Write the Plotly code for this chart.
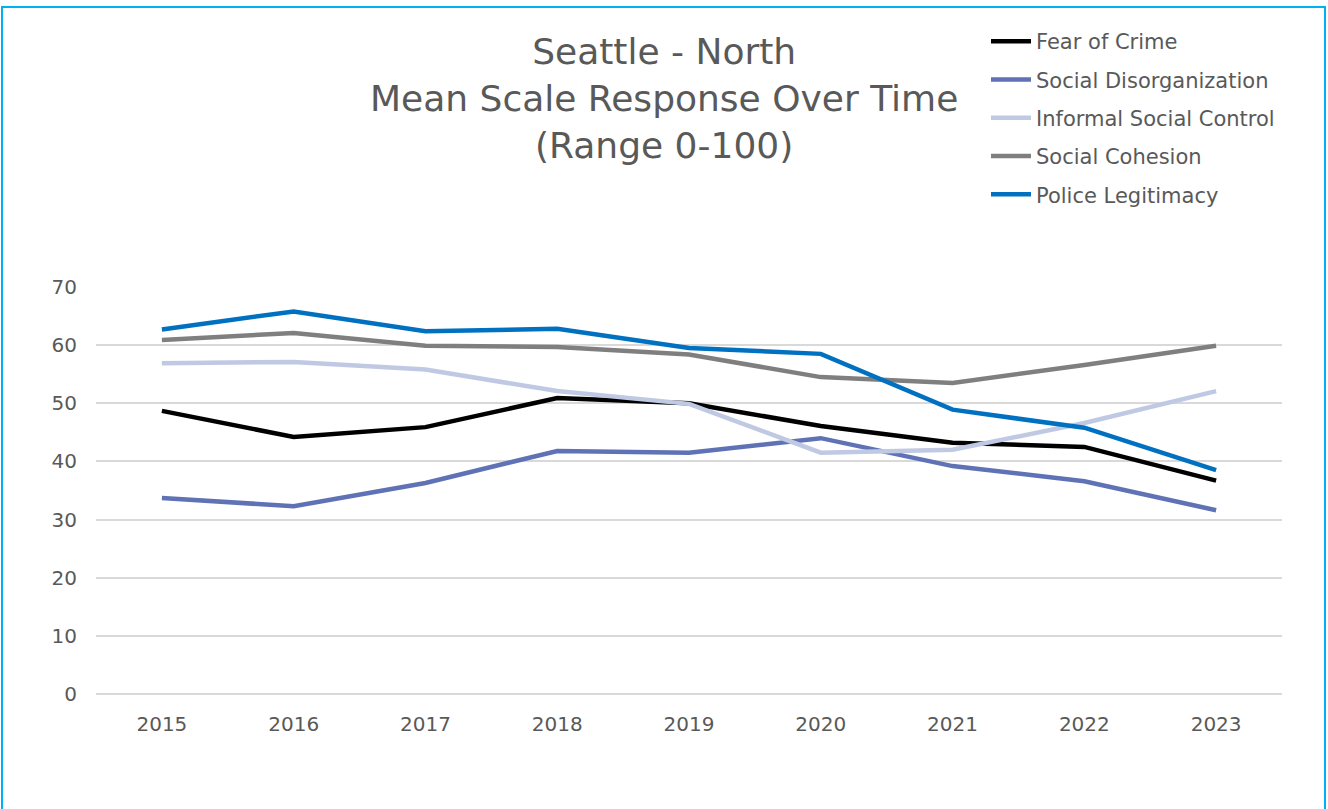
import plotly.graph_objects as go

years = ["2015", "2016", "2017", "2018", "2019", "2020", "2021", "2022", "2023"]
fear_of_crime = [48.7, 44.2, 45.9, 50.9, 50.0, 46.1, 43.2, 42.5, 36.7]
social_disorganization = [33.7, 32.3, 36.3, 41.8, 41.5, 44.0, 39.2, 36.6, 31.6]
informal_social_control = [56.9, 57.1, 55.8, 52.1, 49.9, 41.5, 42.0, 46.6, 52.1]
social_cohesion = [60.9, 62.1, 59.9, 59.7, 58.4, 54.5, 53.5, 56.6, 59.9]
police_legitimacy = [62.7, 65.8, 62.4, 62.8, 59.5, 58.5, 48.9, 45.8, 38.5]

series = [
    ("Fear of Crime", fear_of_crime, "#000000"),
    ("Social Disorganization", social_disorganization, "#5E72B5"),
    ("Informal Social Control", informal_social_control, "#C0C9E4"),
    ("Social Cohesion", social_cohesion, "#7F7F7F"),
    ("Police Legitimacy", police_legitimacy, "#0070C0"),
]

FONT = "'DejaVu Sans', sans-serif"
W, H = 1328, 809
L, R, T, B = 96, 46, 287, 115

fig = go.Figure()
for i, (name, vals, color) in enumerate(series):
    fig.add_trace(go.Scatter(
        x=years, y=vals, name=name, mode="lines",
        line=dict(color=color, width=4.5),
        legendgroup=f"g{i}",
    ))

pw = W - L - R
ph = H - T - B
def px_x(p):
    return (p - L) / pw
def px_y(p):
    return (H - B - p) / ph

fig.update_layout(
    width=W, height=H,
    margin=dict(l=L, r=R, t=T, b=B),
    paper_bgcolor="white", plot_bgcolor="white",
    font=dict(family=FONT, color="#595959"),
    legend=dict(
        x=px_x(986), y=px_y(21), xanchor="left", yanchor="top",
        font=dict(size=21, color="#595959", family=FONT),
        tracegroupgap=8, bgcolor="rgba(0,0,0,0)", itemwidth=40,
    ),
    xaxis=dict(
        type="category", range=[-0.5, 8.5],
        showgrid=False, zeroline=False, showline=False,
        ticks="outside", ticklen=12, tickcolor="rgba(0,0,0,0)",
        tickfont=dict(size=20, color="#595959"),
    ),
    yaxis=dict(
        range=[0, 70], dtick=10, tick0=0,
        showgrid=True, gridcolor="#D9D9D9", gridwidth=2,
        zeroline=True, zerolinecolor="#D9D9D9", zerolinewidth=2,
        showline=False,
        ticks="outside", ticklen=14, tickcolor="rgba(0,0,0,0)",
        tickfont=dict(size=20, color="#595959"),
    ),
    annotations=[dict(
        text="Seattle - North<br>Mean Scale Response Over Time<br>(Range 0-100)",
        xref="paper", yref="paper", x=px_x(664), y=px_y(99),
        xanchor="center", yanchor="middle", showarrow=False,
        font=dict(size=36, color="#595959", family=FONT),
    )],
    shapes=[dict(
        type="rect", xref="paper", yref="paper",
        x0=px_x(2), x1=px_x(1325), y0=px_y(7), y1=px_y(830),
        line=dict(color="#00B0F0", width=2), fillcolor="rgba(0,0,0,0)", layer="below",
    )],
)

fig.write_html(
    "out.html",
    config={"displayModeBar": False},
    post_script="document.body.style.margin='0';document.body.style.overflow='hidden';",
)
